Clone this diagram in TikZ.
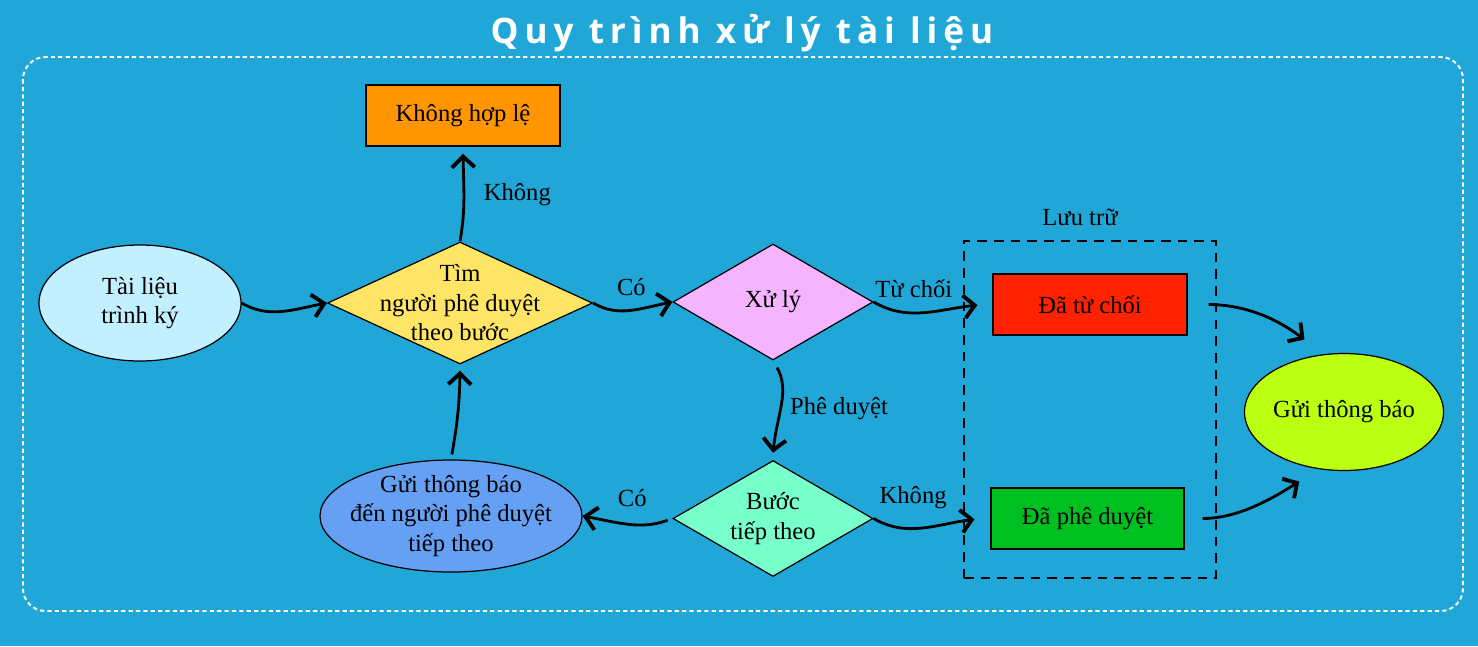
\documentclass[tikz,border=0pt]{standalone}
\usepackage{fontspec}
\setmainfont{Liberation Serif}
\newfontfamily\titleFont[LetterSpace=17]{Open Sans}
\usetikzlibrary{shapes.geometric,arrows.meta,bending}

\definecolor{bgBlue}{RGB}{33,167,215}
\definecolor{docCyan}{RGB}{194,240,255}
\definecolor{findYellow}{RGB}{255,229,102}
\definecolor{badOrange}{RGB}{255,149,0}
\definecolor{handlePink}{RGB}{244,180,255}
\definecolor{stepAqua}{RGB}{119,255,204}
\definecolor{sendBlue}{RGB}{102,160,245}
\definecolor{rejectRed}{RGB}{255,34,0}
\definecolor{approveGreen}{RGB}{0,191,32}
\definecolor{notifyLime}{RGB}{187,255,17}

\begin{document}
\begin{tikzpicture}[%%
  lineStyle/.style={-{Straight Barb[length=6.5pt,width=13pt,line width=2.2pt,bend]},line width=1.6pt,black},%%
  labelStyle/.style={inner sep=2pt,font=\fontsize{14}{16.8}\selectfont,align=center},%%
  nodeStyle/.style={draw=black,line width=0.7pt,inner sep=0pt,labelStyle},%%
  boxStyle/.style={nodeStyle,rectangle,minimum width=3.88cm,minimum height=1.22cm},%%
  ovalStyle/.style={nodeStyle,ellipse},%%
  choiceStyle/.style={nodeStyle,diamond,minimum width=4cm,minimum height=2.32cm},%%
  textIn/.style={label={[labelStyle]center:#1}},%%
  frameStyle/.style={draw=white,line width=1.1pt,dash pattern=on 2.4pt off 1.8pt,rounded corners=0.45cm}%%
]
%%
%% Background and frame.
\fill[bgBlue] (0,0) rectangle (29.56,-12.92);
\draw[frameStyle] (0.46,-1.14) rectangle (29.26,-12.22);
\node (Title) at (14.84,-0.66) [text=white,inner sep=0pt]
  {\titleFont\bfseries\fontsize{20}{24}\selectfont Quy trình xử lý tài liệu};
%%
%%
\pgfmathsetmacro{\yTop}{-6.06}
\pgfmathsetmacro{\yLow}{-10.37}
%%
\coordinate (Document) at (2.8,\yTop);
\coordinate (Find) at (9.2,\yTop);
\coordinate (Invalid) at (9.26,-2.31);
\coordinate (Handle) at (15.46,-6.04);
\coordinate (NextStep) at (15.46,\yLow);
\coordinate (SendNext) at (9.02,-10.32);
\coordinate (Archive) at (21.8,-8.19);
\coordinate (Rejected) at (21.8,-6.09);
\coordinate (Approved) at (21.75,\yLow);
\coordinate (Notify) at (26.88,-8.24);
%%
%%
%% Nodes of the flow.
\node (Doc) at (Document) [ovalStyle,fill=docCyan,minimum width=4.04cm,minimum height=2.32cm,
  textIn={Tài liệu\\trình ký}] {};
\node (Fnd) at (Find) [choiceStyle,fill=findYellow,minimum width=5.3cm,minimum height=2.44cm,
  textIn={Tìm\\người phê duyệt\\theo bước}] {};
\node (Inv) at (Invalid) [boxStyle,fill=badOrange] {Không hợp lệ};
\node (Hnd) at (Handle) [choiceStyle,fill=handlePink,textIn={Xử lý}] {};
\node (Nxt) at (NextStep) [choiceStyle,fill=stepAqua,textIn={Bước\\tiếp theo}] {};
\node (Snd) at (SendNext) [ovalStyle,fill=sendBlue,minimum width=5.24cm,minimum height=2.24cm,
  textIn={Gửi thông báo\\đến người phê duyệt\\tiếp theo}] {};
\node (Arc) at (Archive) [draw=black,line width=0.7pt,dash pattern=on 5.5pt off 4pt,
  minimum width=5.04cm,minimum height=6.74cm,
  label={[labelStyle,xshift=-0.2cm,yshift=0.22cm]above:Lưu trữ}] {};
\node (Rej) at (Rejected) [boxStyle,fill=rejectRed] {Đã từ chối};
\node (App) at (Approved) [boxStyle,fill=approveGreen,minimum width=3.86cm] {Đã phê duyệt};
\node (Ntf) at (Notify) [ovalStyle,fill=notifyLime,minimum width=3.98cm,minimum height=2.34cm,
  textIn={Gửi thông báo}] {};
%% Lines between the nodes.
\draw[lineStyle] (Doc.east) to[out=-30,in=190] (Fnd.west);
\draw[lineStyle,shorten >=4pt] (Fnd.north) to[out=80,in=-90]
  node[labelStyle,right=0.3cm] {Không} (Inv.south);
\draw[lineStyle] (Fnd.east) to[out=-30,in=190]
  node[labelStyle,above=0.2cm] {Có} (Hnd.west);
\draw[lineStyle,shorten >=0.3cm] (Hnd.east) to[out=-30,in=180]
  node[labelStyle,pos=0.35,above=0.2cm] {Từ chối} (Rej.west);
\draw[lineStyle,shorten <=0.16cm,shorten >=0.14cm] (Hnd.south) to[out=-60,in=90]
  node[labelStyle,right=0.1cm] {Phê duyệt} (Nxt.north);
\draw[lineStyle,shorten <=0.1cm] (Nxt.west) to[out=200,in=-10]
  node[labelStyle,pos=0.45,above=0.25cm] {Có} (Snd.east);
\draw[lineStyle,shorten >=0.32cm] (Nxt.east) to[out=-30,in=180]
  node[labelStyle,pos=0.35,above=0.3cm] {Không} (App.west);
\draw[lineStyle,shorten <=0.1cm,shorten >=0.12cm] (Snd.north) to[out=80,in=-90] (Fnd.south);
\draw[lineStyle,shorten <=0.42cm,shorten >=0.45cm] (Rej.east) to[out=0,in=135] (Ntf.112);
\draw[lineStyle,shorten <=0.36cm,shorten >=0.45cm] (App.east) to[out=0,in=215] (Ntf.245);
\end{tikzpicture}
\end{document}
